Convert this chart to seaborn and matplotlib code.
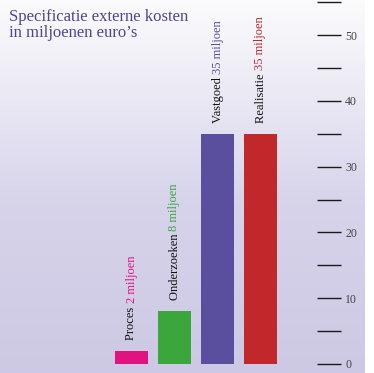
import numpy as np
import pandas as pd
import matplotlib
matplotlib.use("Agg")
import matplotlib.pyplot as plt
import seaborn as sns
from matplotlib.colors import LinearSegmentedColormap

categories = ["Proces", "Onderzoeken", "Vastgoed", "Realisatie"]
values = [2, 8, 35, 35]
value_labels = ["2 miljoen", "8 miljoen", "35 miljoen", "35 miljoen"]
colors = ["#e0137f", "#3aa63c", "#5a4f9e", "#c0282c"]
major_ticks = [0, 10, 20, 30, 40, 50]
minor_ticks = [5, 15, 25, 35, 45, 55]
title = "Specificatie externe kosten\nin miljoenen euro’s"

df = pd.DataFrame({"cat": categories, "val": values})

sns.set_theme(style="white")
plt.rcParams["font.family"] = ["Liberation Serif", "DejaVu Serif"]

W, H = 374, 373
fig = plt.figure(figsize=(W / 100, H / 100), dpi=100)
ax = fig.add_axes([0, 0, 1, 1])

# pixel mapping
px_per_unit = 6.58
y0_px = 364
ymax = y0_px / px_per_unit
ymin = -(H - y0_px) / px_per_unit
step = 43.0
c0 = 131.5
xmin = -c0 / step
xmax = (W - c0) / step

# background gradient
grad_right = (365 - c0) / step
cmap = LinearSegmentedColormap.from_list(
    "bg", [(0, "#cdc9e4"), (0.45, "#d6d3ea"), (0.8, "#eeedf6"), (1.0, "#fbfbfd")])
g = np.linspace(0, 1, 256).reshape(-1, 1)
ax.imshow(g, aspect="auto", cmap=cmap, origin="lower",
          extent=[xmin, grad_right, ymin, ymax], zorder=0)

sns.barplot(data=df, x="cat", y="val", hue="cat", palette=colors,
            width=33 / step, saturation=1, legend=False, ax=ax, zorder=2,
            linewidth=0, edgecolor="none")

ax.set_xlim(xmin, xmax)
ax.set_ylim(ymin, ymax)
ax.set_xlabel("")
ax.set_ylabel("")
ax.set_xticks([])
for s in ax.spines.values():
    s.set_visible(False)

# right axis ticks
ax.yaxis.tick_right()
ax.spines["right"].set_position(("data", (341 - c0) / step))
ax.set_yticks(major_ticks)
ax.set_yticks(minor_ticks, minor=True)
ax.set_yticklabels([str(t) for t in major_ticks])
ax.tick_params(axis="y", which="both", direction="in", length=17.3, width=1.0,
               color="#1a1a1a", right=True, left=False)
ax.tick_params(axis="y", which="major", labelsize=8.5, labelcolor="#444444", pad=3)

# bar labels
for i, (c, v, vl, col) in enumerate(zip(categories, values, value_labels, colors)):
    t1 = ax.annotate(c + " ", xy=(i, v), xytext=(0, 8), textcoords="offset points",
                     rotation=90, ha="center", va="bottom", fontsize=9,
                     color="#111111", zorder=3)
    ax.annotate(vl, xy=(0.5, 1.0), xycoords=t1, xytext=(0, 0),
                textcoords="offset points", rotation=90, ha="center",
                va="bottom", fontsize=9, color=col, zorder=3)

fig.text(9 / W, 1 - 9 / H, title, ha="left", va="top", fontsize=12,
         color="#4d4590", linespacing=1.0)

fig.savefig("out.png", dpi=100)
